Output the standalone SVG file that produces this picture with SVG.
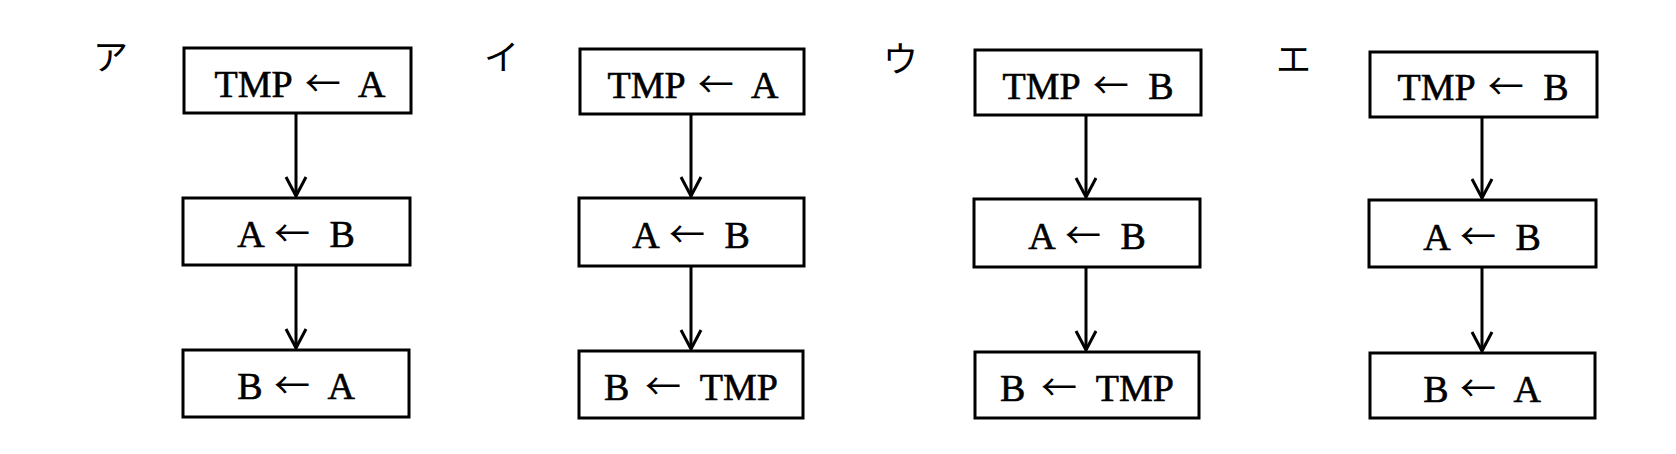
<svg xmlns="http://www.w3.org/2000/svg" width="1676" height="454" viewBox="0 0 1676 454">
<style>
.box{fill:#fff;stroke:#000;stroke-width:3}
.t{font-family:"Liberation Serif","Times New Roman",serif;font-size:38px;fill:#000;stroke:#000;stroke-width:0.6;text-anchor:middle}
.ar{font-family:"Noto Sans CJK JP",sans-serif;font-size:36px;stroke-width:0}
.lbl{font-family:"Noto Sans CJK JP",sans-serif;font-size:35px;fill:#000}
.c{stroke:#000;stroke-width:3;fill:none}
</style>
<defs>
<marker id="arr" markerUnits="userSpaceOnUse" viewBox="-22 -13 26 26" markerWidth="26" markerHeight="26" refX="0" refY="0" orient="auto">
<path d="M-19,-10 L0,0 L-19,10" fill="none" stroke="#000" stroke-width="3"/>
</marker>
</defs>
<rect width="1676" height="454" fill="#fff"/>
<g id="connectors">
<line class="c" x1="296" y1="113" x2="296" y2="196" marker-end="url(#arr)"/>
<line class="c" x1="296" y1="265" x2="296" y2="348" marker-end="url(#arr)"/>
<line class="c" x1="691" y1="114" x2="691" y2="196" marker-end="url(#arr)"/>
<line class="c" x1="691" y1="266" x2="691" y2="349" marker-end="url(#arr)"/>
<line class="c" x1="1086" y1="115" x2="1086" y2="197" marker-end="url(#arr)"/>
<line class="c" x1="1086" y1="267" x2="1086" y2="350" marker-end="url(#arr)"/>
<line class="c" x1="1482" y1="117" x2="1482" y2="198" marker-end="url(#arr)"/>
<line class="c" x1="1482" y1="267" x2="1482" y2="351" marker-end="url(#arr)"/>
</g>
<g id="label-a"><text class="lbl" x="93" y="70">ア</text></g>
<g id="a1"><rect class="box" x="184" y="48" width="227" height="65"/><text class="t" x="300" y="97">TMP <tspan class="ar" dx="4">←</tspan><tspan dx="10"> A</tspan></text></g>
<g id="a2"><rect class="box" x="183" y="198" width="227" height="67"/><text class="t" x="296" y="247">A <tspan class="ar" dx="2">←</tspan><tspan dx="10"> B</tspan></text></g>
<g id="a3"><rect class="box" x="183" y="350" width="226" height="67"/><text class="t" x="296" y="399">B <tspan class="ar" dx="2">←</tspan><tspan dx="10"> A</tspan></text></g>
<g id="label-i"><text class="lbl" x="484" y="70">イ</text></g>
<g id="i1"><rect class="box" x="580" y="49" width="224" height="65"/><text class="t" x="693" y="98">TMP <tspan class="ar" dx="4">←</tspan><tspan dx="10"> A</tspan></text></g>
<g id="i2"><rect class="box" x="579" y="198" width="225" height="68"/><text class="t" x="691" y="248">A <tspan class="ar" dx="2">←</tspan><tspan dx="10"> B</tspan></text></g>
<g id="i3"><rect class="box" x="579" y="351" width="224" height="67"/><text class="t" x="691" y="400">B <tspan class="ar" dx="6">←</tspan><tspan dx="10"> TMP</tspan></text></g>
<g id="label-u"><text class="lbl" x="883" y="72">ウ</text></g>
<g id="u1"><rect class="box" x="975" y="50" width="226" height="65"/><text class="t" x="1088" y="99">TMP <tspan class="ar" dx="4">←</tspan><tspan dx="10"> B</tspan></text></g>
<g id="u2"><rect class="box" x="974" y="199" width="226" height="68"/><text class="t" x="1087" y="249">A <tspan class="ar" dx="2">←</tspan><tspan dx="10"> B</tspan></text></g>
<g id="u3"><rect class="box" x="975" y="352" width="224" height="66"/><text class="t" x="1087" y="401">B <tspan class="ar" dx="6">←</tspan><tspan dx="10"> TMP</tspan></text></g>
<g id="label-e"><text class="lbl" x="1276" y="72">エ</text></g>
<g id="e1"><rect class="box" x="1370" y="52" width="227" height="65"/><text class="t" x="1483" y="100">TMP <tspan class="ar" dx="4">←</tspan><tspan dx="10"> B</tspan></text></g>
<g id="e2"><rect class="box" x="1369" y="200" width="227" height="67"/><text class="t" x="1482" y="250">A <tspan class="ar" dx="2">←</tspan><tspan dx="10"> B</tspan></text></g>
<g id="e3"><rect class="box" x="1370" y="353" width="225" height="65"/><text class="t" x="1482" y="402">B <tspan class="ar" dx="2">←</tspan><tspan dx="10"> A</tspan></text></g>
</svg>
